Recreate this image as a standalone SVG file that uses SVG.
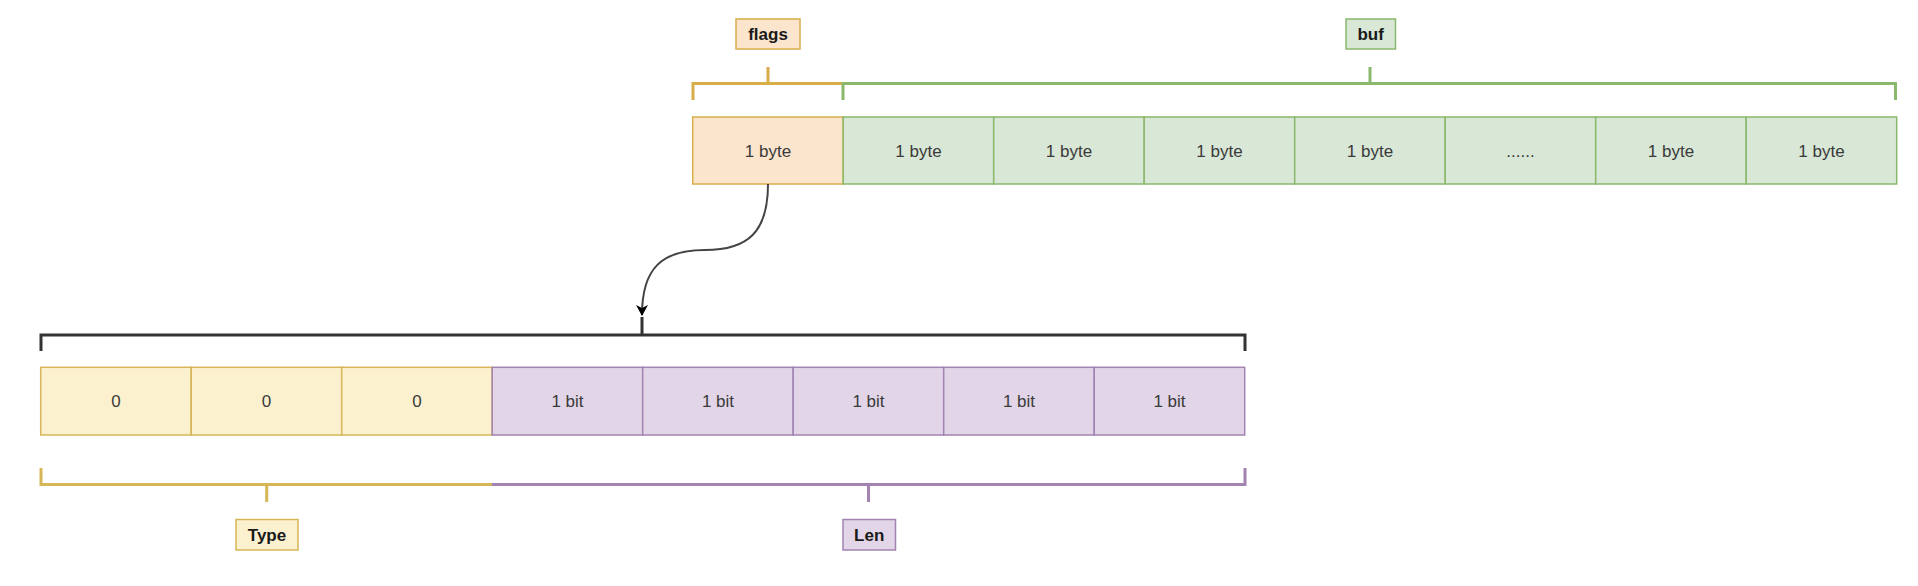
<svg xmlns="http://www.w3.org/2000/svg" width="1918" height="586" viewBox="0 0 1918 586">
<defs>
<style>
.cell{stroke-width:1.5}
.or{fill:#fbe5cd;stroke:#d8ae48}
.gr{fill:#d8e7d6;stroke:#8ab86c}
.ye{fill:#fcf1cf;stroke:#d6b656}
.pu{fill:#e1d5e7;stroke:#a283b2}
.t{font-family:"Liberation Sans",Arial,sans-serif;font-size:17px;fill:#3a3a3a;text-anchor:middle;dominant-baseline:central}
.lb{font-family:"Liberation Sans",Arial,sans-serif;font-size:17px;font-weight:bold;fill:#1a1a1a;text-anchor:middle;dominant-baseline:central}
.br{fill:none;stroke-width:3}
</style>
<marker id="arr" markerWidth="12" markerHeight="12" viewBox="0 0 12 12" refX="10" refY="6" orient="auto" markerUnits="userSpaceOnUse">
<path d="M0,0 L11,6 L0,12 L3,6 Z" fill="#000"/>
</marker>
</defs>
<rect width="1918" height="586" fill="#fff"/>

<g id="top-labels">
<g id="flags-label"><rect x="736" y="19" width="64" height="30" class="or" stroke-width="1.5"/><text x="768" y="34" class="lb">flags</text></g>
<g id="buf-label"><rect x="1346" y="19" width="49.5" height="30" class="gr" stroke-width="1.5"/><text x="1370.7" y="34" class="lb">buf</text></g>
</g>

<g id="top-brackets">
<path id="flags-bracket" class="br" stroke="#d8ae48" d="M693,100 V83.5 H843 M768,83.5 V67"/>
<path id="buf-bracket" class="br" stroke="#8ab86c" d="M843,100 V83.5 H1895.5 V100 M1370,83.5 V67"/>
</g>

<g id="top-row">
<g id="byte0"><rect x="692.7" y="117" width="150.5" height="67" class="cell or"/><text x="768" y="151" class="t">1 byte</text></g>
<g id="byte1"><rect x="843.2" y="117" width="150.5" height="67" class="cell gr"/><text x="918.5" y="151" class="t">1 byte</text></g>
<g id="byte2"><rect x="993.7" y="117" width="150.5" height="67" class="cell gr"/><text x="1069" y="151" class="t">1 byte</text></g>
<g id="byte3"><rect x="1144.2" y="117" width="150.5" height="67" class="cell gr"/><text x="1219.5" y="151" class="t">1 byte</text></g>
<g id="byte4"><rect x="1294.7" y="117" width="150.5" height="67" class="cell gr"/><text x="1370" y="151" class="t">1 byte</text></g>
<g id="byte5"><rect x="1445.2" y="117" width="150.5" height="67" class="cell gr"/><text x="1520.5" y="151" class="t">......</text></g>
<g id="byte6"><rect x="1595.7" y="117" width="150.5" height="67" class="cell gr"/><text x="1671" y="151" class="t">1 byte</text></g>
<g id="byte7"><rect x="1746.2" y="117" width="150.5" height="67" class="cell gr"/><text x="1821.5" y="151" class="t">1 byte</text></g>
</g>

<g id="connectors">
<path d="M768,184 C768,232 748,250 705,250 C662,250 642,268 642,315" fill="none" stroke="#444" stroke-width="2" marker-end="url(#arr)"/>
</g>

<g id="bit-bracket">
<path class="br" stroke="#333" d="M41,351 V335 H1245 V351 M642,335 V317"/>
</g>

<g id="bottom-row">
<g id="bit0"><rect x="40.7" y="367.3" width="150.5" height="67.7" class="cell ye"/><text x="116" y="401" class="t">0</text></g>
<g id="bit1"><rect x="191.2" y="367.3" width="150.5" height="67.7" class="cell ye"/><text x="266.5" y="401" class="t">0</text></g>
<g id="bit2"><rect x="341.7" y="367.3" width="150.5" height="67.7" class="cell ye"/><text x="417" y="401" class="t">0</text></g>
<g id="bit3"><rect x="492.2" y="367.3" width="150.5" height="67.7" class="cell pu"/><text x="567.5" y="401" class="t">1 bit</text></g>
<g id="bit4"><rect x="642.7" y="367.3" width="150.5" height="67.7" class="cell pu"/><text x="718" y="401" class="t">1 bit</text></g>
<g id="bit5"><rect x="793.2" y="367.3" width="150.5" height="67.7" class="cell pu"/><text x="868.5" y="401" class="t">1 bit</text></g>
<g id="bit6"><rect x="943.7" y="367.3" width="150.5" height="67.7" class="cell pu"/><text x="1019" y="401" class="t">1 bit</text></g>
<g id="bit7"><rect x="1094.2" y="367.3" width="150.5" height="67.7" class="cell pu"/><text x="1169.5" y="401" class="t">1 bit</text></g>
</g>

<g id="bottom-brackets">
<path id="type-bracket" class="br" stroke="#d6b656" d="M41,468 V484.5 H492 M266.7,484.5 V502"/>
<path id="len-bracket" class="br" stroke="#a283b2" d="M492,484.5 H1245 V468 M868.5,484.5 V502"/>
</g>

<g id="bottom-labels">
<g id="type-label"><rect x="236" y="519.5" width="62" height="30.5" class="ye" stroke-width="1.5"/><text x="267" y="535" class="lb">Type</text></g>
<g id="len-label"><rect x="843" y="519.5" width="52.5" height="30.5" class="pu" stroke-width="1.5"/><text x="869.2" y="535" class="lb">Len</text></g>
</g>
</svg>
